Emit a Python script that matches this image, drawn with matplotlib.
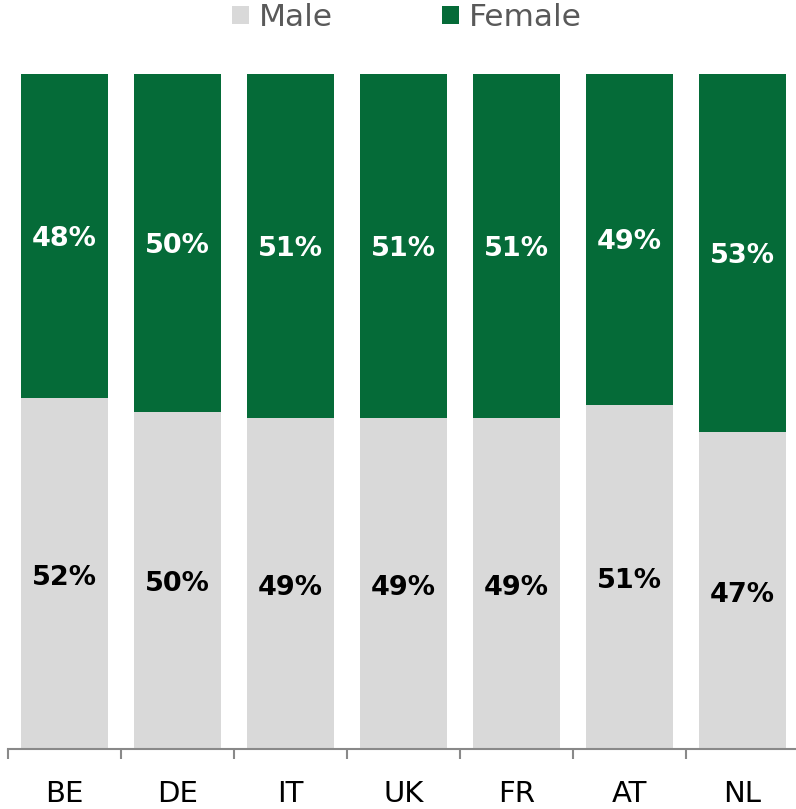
import matplotlib
matplotlib.use("Agg")
import matplotlib.pyplot as plt
import numpy as np

countries = ["BE", "DE", "IT", "UK", "FR", "AT", "NL"]
male = [52, 50, 49, 49, 49, 51, 47]
female = [48, 50, 51, 51, 51, 49, 53]

male_color = "#D9D9D9"
female_color = "#056B38"

fig = plt.figure(figsize=(7.96, 8.09), dpi=100)
ax = fig.add_axes([8/796, 60/809, 791/796, 675/809])

x = np.arange(len(countries))
w = 0.77
bm = ax.bar(x, male, width=w, color=male_color, label="Male")
bf = ax.bar(x, female, width=w, bottom=male, color=female_color, label="Female")

for xi, m, f in zip(x, male, female):
    ax.annotate(f"{m}%", (xi, m / 2), xytext=(0, -3), textcoords="offset points",
                ha="center", va="center", fontsize=19.5,
                fontweight="bold", color="black")
    ax.annotate(f"{f}%", (xi, m + f / 2), xytext=(0, -2), textcoords="offset points",
                ha="center", va="center", fontsize=19.5,
                fontweight="bold", color="white")

ax.set_xlim(-0.5, len(countries) - 0.5)
ax.set_ylim(0, 100)
ax.set_yticks([])
for s in ["top", "right", "left"]:
    ax.spines[s].set_visible(False)
ax.spines["bottom"].set_color("#898989")
ax.spines["bottom"].set_linewidth(1.5)

ax.set_xticks(x)
ax.set_xticklabels(countries, fontsize=21)
ax.tick_params(axis="x", which="major", length=0, pad=22)
ax.set_xticks(np.arange(-0.5, len(countries)), minor=True)
ax.tick_params(axis="x", which="minor", length=7.5, width=1.5, color="#898989")

leg = fig.legend(handles=[bm, bf], labels=["Male", "Female"], loc="upper left",
                 bbox_to_anchor=(232/796, 1.0 - 3/809), ncol=2, frameon=False,
                 borderpad=0.0, borderaxespad=0.0,
                 handlelength=0.55, handleheight=0.55, handletextpad=0.3,
                 columnspacing=3.5,
                 prop={"family": "DejaVu Sans", "size": 22.5})
for t in leg.get_texts():
    t.set_color("#595959")

fig.savefig("out.png", dpi=100)
